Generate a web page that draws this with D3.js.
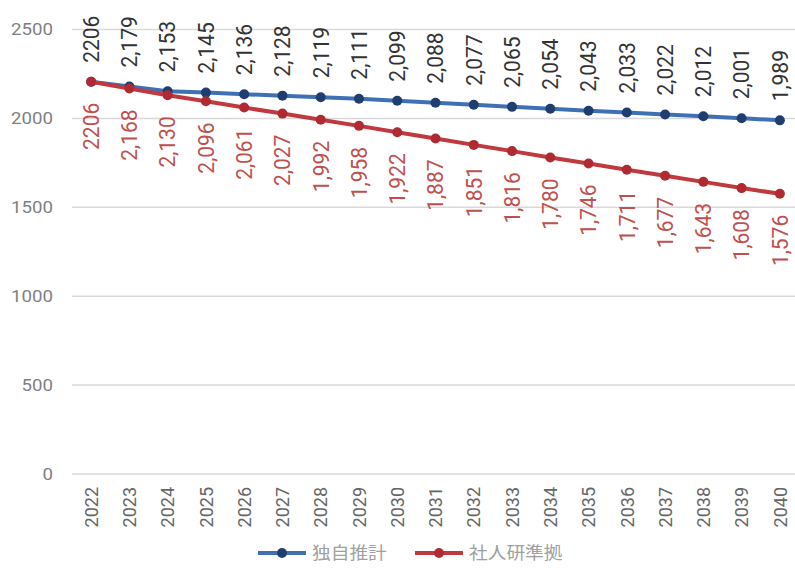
<!DOCTYPE html>
<html>
<head>
<meta charset="utf-8">
<script src="https://cdn.jsdelivr.net/npm/d3@7"></script>
<style>
body { margin: 0; background: #fff; }
text { font-family: Roboto, "Liberation Sans", sans-serif; }
</style>
</head>
<body>
<script>
var years = ["2022","2023","2024","2025","2026","2027","2028","2029","2030","2031",
	"2032","2033","2034","2035","2036","2037","2038","2039","2040"];
var dokuji = [2206,2179,2153,2145,2136,2128,2119,2111,2099,2088,2077,2065,2054,2043,2033,2022,2012,2001,1989];
var shajinken = [2206,2168,2130,2096,2061,2027,1992,1958,1922,1887,1851,1816,1780,1746,1711,1677,1643,1608,1576];
var yTicks = [0,500,1000,1500,2000,2500];
var seriesNames = ["独自推計","社人研準拠"];

var w = 795;
var h = 575;
var sx = 1.06; // picture is a little wider than tall

var svg = d3.select("body")
	.append("svg")
	.attr("width", w)
	.attr("height", h);

var x = d3.scaleBand()
	.domain(years)
	.range([72, 799]);

var y = d3.scaleLinear()
	.domain([0, 2500])
	.range([474, 29.5]);

var cx = function(d, i) { return x(years[i]) + x.bandwidth() / 2; };
var fmt = d3.format(",");
var label = function(v, i) { return i === 0 ? String(v) : fmt(v); };

//gridlines
svg.selectAll("line.grid")
	.data(yTicks)
	.enter()
	.append("line")
	.attr("class", "grid")
	.attr("x1", 72)
	.attr("x2", 799)
	.attr("y1", function(d) { return y(d); })
	.attr("y2", function(d) { return y(d); })
	.attr("stroke", "#d9d9d9")
	.attr("stroke-width", 1.5);

//y labels
svg.selectAll("text.ylab")
	.data(yTicks)
	.enter()
	.append("text")
	.attr("class", "ylab")
	.attr("transform", function(d) { return "translate(53," + y(d) + ") scale(1.1,1)"; })
	.attr("text-anchor", "end")
	.attr("dy", "0.35em")
	.attr("fill", "#7f7f7f")
	.style("font-size", "17px")
	.text(function(d) { return d; });

//year labels
svg.selectAll("text.xlab")
	.data(years)
	.enter()
	.append("text")
	.attr("class", "xlab")
	.attr("transform", function(d) {
		return "translate(" + (x(d) + x.bandwidth() / 2) + ",487) scale(" + sx + ",1) rotate(-90)";
	})
	.attr("text-anchor", "end")
	.attr("dy", "0.35em")
	.attr("fill", "#666")
	.style("font-size", "18px")
	.text(function(d) { return d; });

var series = [
	{name: seriesNames[0], values: dokuji, line: "#4070b4", marker: "#1f3d6e", text: "#333"},
	{name: seriesNames[1], values: shajinken, line: "#c0393f", marker: "#b02a32", text: "#c0504d"}
];

var line = d3.line()
	.x(cx)
	.y(function(d) { return y(d); });

series.forEach(function(s, k) {
	svg.append("path")
		.datum(s.values)
		.attr("fill", "none")
		.attr("stroke", s.line)
		.attr("stroke-width", 4)
		.attr("d", line);

	svg.selectAll("circle.m" + k)
		.data(s.values)
		.enter()
		.append("circle")
		.attr("class", "m" + k)
		.attr("cx", cx)
		.attr("cy", function(d) { return y(d); })
		.attr("r", 5)
		.attr("fill", s.marker);
});

//data labels: blue above, red below
svg.selectAll("text.lab0")
	.data(dokuji)
	.enter()
	.append("text")
	.attr("class", "lab0")
	.attr("transform", function(d, i) {
		return "translate(" + cx(d, i) + "," + (y(d) - 19) + ") scale(" + sx + ",1) rotate(-90)";
	})
	.attr("text-anchor", "start")
	.attr("dy", "0.35em")
	.attr("fill", series[0].text)
	.style("font-size", "21px")
	.text(label);

svg.selectAll("text.lab1")
	.data(shajinken)
	.enter()
	.append("text")
	.attr("class", "lab1")
	.attr("transform", function(d, i) {
		return "translate(" + cx(d, i) + "," + (y(d) + 21) + ") scale(" + sx + ",1) rotate(-90)";
	})
	.attr("text-anchor", "end")
	.attr("dy", "0.35em")
	.attr("fill", series[1].text)
	.style("font-size", "21px")
	.text(label);

//legend
var legendX = [258, 415];
series.forEach(function(s, k) {
	var g = svg.append("g")
		.attr("transform", "translate(" + legendX[k] + ",553)");
	g.append("line")
		.attr("x1", 0)
		.attr("x2", 48)
		.attr("stroke", s.line)
		.attr("stroke-width", 4);
	g.append("circle")
		.attr("cx", 24)
		.attr("r", 5)
		.attr("fill", s.marker);
	g.append("text")
		.attr("transform", "translate(54,0) scale(1.1,1)")
		.attr("dy", "0.35em")
		.attr("fill", "#a0a0a0")
		.style("font-family", "'Noto Sans CJK JP', sans-serif")
		.style("font-size", "17px")
		.text(s.name);
});
</script>
</body>
</html>
